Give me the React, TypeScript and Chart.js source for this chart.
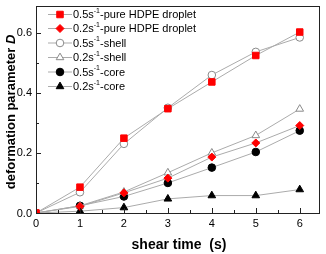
import React, { useEffect, useRef } from "react";
import { Chart, registerables } from "chart.js";

Chart.register(...registerables);

const shearTime = [0, 1, 2, 3, 4, 5, 6];
const xTicks = [0, 1, 2, 3, 4, 5, 6];
const yTicks = [0, 0.2, 0.4, 0.6];

const pure05 = [0, 0.086, 0.249, 0.347, 0.436, 0.524, 0.602];
const pure02 = [0, 0.022, 0.067, 0.116, 0.186, 0.233, 0.291];
const shell05 = [0, 0.069, 0.23, 0.35, 0.459, 0.536, 0.584];
const shell02 = [0, 0.024, 0.07, 0.134, 0.2, 0.258, 0.346];
const core05 = [0, 0.024, 0.055, 0.1, 0.151, 0.203, 0.274];
const core02 = [0, 0.006, 0.018, 0.047, 0.058, 0.058, 0.078];

const seriesLabels = [
  ["0.5s", "-pure HDPE droplet"],
  ["0.2s", "-pure HDPE droplet"],
  ["0.5s", "-shell"],
  ["0.2s", "-shell"],
  ["0.5s", "-core"],
  ["0.2s", "-core"],
];

const LINE = "#ababab";
const FONT = "'Liberation Sans', Arial, sans-serif";

type Sty = { shape: string; fill: string; stroke: string; r: number };
const styles: Sty[] = [
  { shape: "rect", fill: "#ff0000", stroke: "#ff0000", r: 4.6 },
  { shape: "rectRot", fill: "#ff0000", stroke: "#ff0000", r: 4 },
  { shape: "circle", fill: "#ffffff", stroke: "#8a8a8a", r: 3.8 },
  { shape: "triangle", fill: "#ffffff", stroke: "#8a8a8a", r: 4.4 },
  { shape: "circle", fill: "#000000", stroke: "#000000", r: 3.8 },
  { shape: "triangle", fill: "#000000", stroke: "#000000", r: 4.4 },
];

function drawMarker(ctx: CanvasRenderingContext2D, s: Sty, x: number, y: number) {
  ctx.save();
  ctx.beginPath();
  const r = s.r;
  if (s.shape === "rect") {
    const h = r * Math.SQRT1_2;
    ctx.rect(x - h, y - h, 2 * h, 2 * h);
  } else if (s.shape === "rectRot") {
    ctx.moveTo(x, y - r);
    ctx.lineTo(x + r, y);
    ctx.lineTo(x, y + r);
    ctx.lineTo(x - r, y);
    ctx.closePath();
  } else if (s.shape === "circle") {
    ctx.arc(x, y, r, 0, Math.PI * 2);
  } else {
    const a = Math.PI / 6;
    ctx.moveTo(x, y - r);
    ctx.lineTo(x + Math.cos(a) * r, y + Math.sin(a) * r);
    ctx.lineTo(x - Math.cos(a) * r, y + Math.sin(a) * r);
    ctx.closePath();
  }
  ctx.fillStyle = s.fill;
  ctx.fill();
  ctx.strokeStyle = s.stroke;
  ctx.lineWidth = 1;
  ctx.stroke();
  ctx.restore();
}

const decorPlugin = {
  id: "decor",
  afterDraw(chart: any) {
    const ctx: CanvasRenderingContext2D = chart.ctx;
    const { left, right, top, bottom } = chart.chartArea;
    const xs = chart.scales.x;
    const ys = chart.scales.y;
    ctx.save();
    // frame
    ctx.strokeStyle = "#222";
    ctx.lineWidth = 1;
    ctx.strokeRect(Math.round(left) + 0.5, Math.round(top) + 0.5, Math.round(right - left) - 1, Math.round(bottom - top));
    // ticks
    ctx.beginPath();
    for (let v = 0.5; v <= 6.4; v += 0.5) {
      const px = Math.round(xs.getPixelForValue(v)) + 0.5;
      const len = Math.abs(v - Math.round(v)) < 1e-6 ? 5 : 3;
      ctx.moveTo(px, bottom);
      ctx.lineTo(px, bottom - len);
    }
    for (let i = 1; i <= 6; i++) {
      const v = i * 0.1;
      const py = Math.round(ys.getPixelForValue(v)) + 0.5;
      const len = i % 2 === 0 ? 5 : 3;
      ctx.moveTo(left, py);
      ctx.lineTo(left + len, py);
    }
    ctx.stroke();

    // tick labels
    ctx.fillStyle = "#000";
    ctx.font = `11px ${FONT}`;
    ctx.textBaseline = "middle";
    ctx.textAlign = "right";
    yTicks.forEach((v) => {
      ctx.fillText(v.toFixed(1), left - 4, ys.getPixelForValue(v) + 0.5);
    });
    ctx.textAlign = "center";
    xTicks.forEach((v) => {
      ctx.fillText(String(v), xs.getPixelForValue(v), bottom + 11);
    });

    // legend
    const ly = [14.5, 28.5, 43, 57.5, 72, 86.5];
    styles.forEach((s, i) => {
      const y = ly[i];
      ctx.beginPath();
      ctx.strokeStyle = LINE;
      ctx.lineWidth = 1;
      ctx.moveTo(48, y);
      ctx.lineTo(72, y);
      ctx.stroke();
      drawMarker(ctx, s, 60, y);
      const [a, b] = seriesLabels[i];
      ctx.fillStyle = "#000";
      ctx.textBaseline = "middle";
      ctx.textAlign = "left";
      ctx.font = `11px ${FONT}`;
      let x = 73;
      ctx.fillText(a, x, y + 0.5);
      x += ctx.measureText(a).width;
      ctx.font = `7px ${FONT}`;
      ctx.fillText("-1", x, y - 3.5);
      x += ctx.measureText("-1").width;
      ctx.font = `11px ${FONT}`;
      ctx.fillText(b, x, y + 0.5);
    });

    // x title
    ctx.fillStyle = "#000";
    ctx.font = `bold 14px ${FONT}`;
    ctx.textAlign = "center";
    ctx.textBaseline = "middle";
    ctx.fillText("shear time  (s)", 179, 245);

    // y title
    ctx.save();
    ctx.translate(11, 112);
    ctx.rotate(-Math.PI / 2);
    const t1 = "deformation parameter ";
    const t2 = "D";
    ctx.font = `bold 13px ${FONT}`;
    const w1 = ctx.measureText(t1).width;
    ctx.font = `italic bold 13px ${FONT}`;
    const w2 = ctx.measureText(t2).width;
    const start = -(w1 + w2) / 2;
    ctx.textAlign = "left";
    ctx.textBaseline = "middle";
    ctx.font = `bold 13px ${FONT}`;
    ctx.fillText(t1, start, 0);
    ctx.font = `italic bold 13px ${FONT}`;
    ctx.fillText(t2, start + w1, 0);
    ctx.restore();
    ctx.restore();
  },
};

export default function App() {
  const ref = useRef<HTMLCanvasElement | null>(null);
  useEffect(() => {
    document.body.style.margin = "0";
    const all = [pure05, pure02, shell05, shell02, core05, core02];
    const datasets = all.map((arr, i) => {
      const s = styles[i];
      return {
        label: seriesLabels[i].join(""),
        data: shearTime.map((t, k) => ({ x: t, y: arr[k] })),
        borderColor: LINE,
        borderWidth: 1,
        pointStyle: s.shape,
        pointRadius: s.r,
        pointBackgroundColor: s.fill,
        pointBorderColor: s.stroke,
        pointBorderWidth: 1,
        tension: 0,
        fill: false,
      };
    });
    const chart = new Chart(ref.current!, {
      type: "line",
      data: { datasets },
      options: {
        animation: false,
        responsive: false,
        devicePixelRatio: 1,
        layout: { padding: { left: 0, right: 2, top: 2, bottom: 0 } },
        plugins: { legend: { display: false }, tooltip: { enabled: false } },
        scales: {
          x: {
            type: "linear",
            min: 0,
            max: 6.47,
            grid: { display: false },
            border: { display: false },
            afterBuildTicks: (sc: any) => {
              sc.ticks = xTicks.map((v) => ({ value: v }));
            },
            afterFit: (sc: any) => {
              sc.height = 41;
            },
            ticks: { display: false },
          },
          y: {
            type: "linear",
            min: 0,
            max: 0.69,
            grid: { display: false },
            border: { display: false },
            afterBuildTicks: (sc: any) => {
              sc.ticks = yTicks.map((v) => ({ value: v }));
            },
            afterFit: (sc: any) => {
              sc.width = 36;
            },
            ticks: { display: false },
          },
        },
      } as any,
      plugins: [decorPlugin],
    });
    return () => chart.destroy();
  }, []);
  return (
    <div style={{ position: "absolute", left: 0, top: 0, width: 326, height: 254, background: "#fff" }}>
      <canvas ref={ref} width={326} height={254} style={{ width: 326, height: 254, display: "block" }} />
    </div>
  );
}
